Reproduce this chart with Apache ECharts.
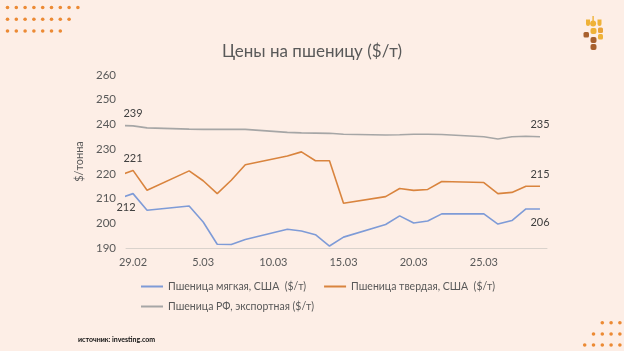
<!DOCTYPE html>
<html>
<head>
<meta charset="utf-8">
<script src="https://cdn.jsdelivr.net/npm/echarts@6/dist/echarts.min.js"></script>
<style>
  html, body { margin: 0; padding: 0; background: #fdeee6; }
  #main { width: 624px; height: 351px; }
</style>
</head>
<body>
<div id="main"></div>
<script>
// даты торгов (первая точка 28.02 обрезается краем оси)
var dates = ['28.02', '29.02', '1.03', '4.03', '5.03', '6.03', '7.03', '8.03',
  '11.03', '12.03', '13.03', '14.03', '15.03', '18.03', '19.03', '20.03', '21.03', '22.03',
  '25.03', '26.03', '27.03', '28.03', '29.03'];

var softUS = [210, 212, 205.3, 207, 200.5, 191.5, 191.4, 193.4,
  197.6, 196.9, 195.4, 190.8, 194.4, 199.5, 203, 200.1, 200.9, 203.8,
  203.8, 199.7, 201.1, 205.8, 205.8];

var durumUS = [219.3, 221.4, 213.4, 221.2, 217.2, 212, 217.4, 223.7,
  227.2, 228.9, 225.3, 225.3, 208.1, 210.8, 214.1, 213.3, 213.7, 216.9,
  216.5, 212, 212.5, 215, 215];

var russia = [239.6, 239.4, 238.6, 238.1, 238, 238, 238, 238,
  236.8, 236.6, 236.5, 236.4, 236, 235.7, 235.8, 236, 236, 235.9,
  235, 234.1, 235, 235.2, 235];

var tickLabels = ['29.02', '5.03', '10.03', '15.03', '20.03', '25.03'];

var seriesNames = ['Пшеница мягкая, США  ($/т)', 'Пшеница твердая, США  ($/т)', 'Пшеница РФ, экспортная ($/т)'];
var colors = ['#7e9bd7', '#d9843e', '#a6a6a6'];

var FONT = 'Lato';
var base = new Date(2024, 1, 29).getTime();

function dayOffset(s) {
  var p = s.split('.');
  return Math.round((new Date(2024, +p[1] - 1, +p[0]).getTime() - base) / 864e5);
}

var xs = dates.map(dayOffset);
var tickValues = tickLabels.map(dayOffset);

// подписи только у второй (29.02) и последней точки
function buildData(values, pos, offset) {
  return values.map(function (v, i) {
    var item = { value: [xs[i], v] };
    if (i === 1 || i === values.length - 1) {
      item.symbol = 'circle';
      item.symbolSize = 1;
      item.itemStyle = { color: 'rgba(0,0,0,0)' };
      item.label = {
        show: true,
        position: pos,
        distance: pos === 'bottom' ? 8 : 6,
        offset: i === 1 ? offset : [0, 0],
        fontFamily: FONT,
        fontSize: 11,
        color: '#404040',
        formatter: function (p) { return Math.round(p.value[1]); }
      };
    }
    return item;
  });
}

// декоративные точки и логотип
var deco = [];
function dotRow(x0, y, n, step) {
  for (var i = 0; i < n; i++) {
    deco.push({ type: 'circle', shape: { cx: x0 + i * step, cy: y, r: 1.8 }, style: { fill: '#ec8a34' } });
  }
}
dotRow(7.5, 7.5, 9, 8.8);
dotRow(7.5, 19.3, 8, 8.8);
dotRow(7.5, 31, 7, 8.8);
dotRow(602.3, 322.7, 3, 8.8);
dotRow(593.5, 334, 4, 8.8);
dotRow(584.7, 345, 5, 8.8);

var gold = '#efb238', brown = '#a8602e', amber = '#e9a33a';
deco.push(
  { type: 'rect', shape: { x: 592.4, y: 16, width: 1.4, height: 5 }, style: { fill: gold } },
  { type: 'circle', shape: { cx: 593.1, cy: 23.5, r: 3 }, style: { fill: gold } },
  { type: 'rect', shape: { x: 586, y: 19.5, width: 4, height: 6.5, r: [0, 0, 2, 2] }, style: { fill: gold } },
  { type: 'rect', shape: { x: 597.5, y: 19.5, width: 4, height: 6.5, r: [0, 0, 2, 2] }, style: { fill: gold } },
  { type: 'rect', shape: { x: 590.5, y: 28, width: 6, height: 6, r: 2 }, style: { fill: gold } },
  { type: 'rect', shape: { x: 598, y: 27.5, width: 5, height: 5.5, r: 1.5 }, style: { fill: amber } },
  { type: 'rect', shape: { x: 583.5, y: 32, width: 5.5, height: 5.5, r: 1.5 }, style: { fill: brown } },
  { type: 'rect', shape: { x: 590.5, y: 37, width: 6, height: 6, r: 2 }, style: { fill: brown } },
  { type: 'rect', shape: { x: 598, y: 34, width: 5, height: 5.5, r: 1.5 }, style: { fill: gold } },
  { type: 'rect', shape: { x: 590.5, y: 44, width: 6, height: 6, r: 2 }, style: { fill: brown } },
  {
    type: 'text', left: 78, top: 336,
    style: { text: 'источник: investing.com', font: 'bold 7px ' + FONT, fill: '#111' }
  }
);

var legendText = { fontFamily: FONT, fontSize: 10.5, color: '#595959' };

var myChart = echarts.init(document.getElementById('main'));

myChart.setOption({
  backgroundColor: '#fdeee6',
  textStyle: { fontFamily: FONT },
  title: {
    text: 'Цены на пшеницу ($/т)',
    left: 'center',
    top: 38,
    textStyle: { fontFamily: FONT, fontSize: 17, fontWeight: 'normal', color: '#595959' }
  },
  legend: [
    {
      data: [
        { name: seriesNames[0], itemStyle: { color: colors[0] } },
        { name: seriesNames[1], itemStyle: { color: colors[1] } }
      ],
      left: 136, top: 276,
      itemGap: 18, itemWidth: 22, itemHeight: 2,
      icon: 'rect',
      textStyle: legendText
    },
    {
      data: [{ name: seriesNames[2], itemStyle: { color: colors[2] } }],
      left: 136, top: 296,
      itemWidth: 22, itemHeight: 2,
      icon: 'rect',
      textStyle: legendText
    }
  ],
  grid: { left: 126, right: 77, top: 75, bottom: 103 },
  xAxis: {
    type: 'value',
    min: -0.5,
    max: 29.5,
    axisLine: { lineStyle: { color: '#d9d2cc' } },
    axisTick: { show: false },
    splitLine: { show: false },
    axisLabel: {
      customValues: tickValues,
      margin: 9,
      fontSize: 11,
      color: '#595959',
      formatter: function (v) { return tickLabels[tickValues.indexOf(Math.round(v))] || ''; }
    }
  },
  yAxis: {
    type: 'value',
    min: 190,
    max: 260,
    interval: 10,
    name: '$/тонна',
    nameLocation: 'middle',
    nameGap: 40,
    nameTextStyle: { fontFamily: FONT, fontSize: 11, color: '#595959' },
    axisLine: { show: false },
    axisTick: { show: false },
    splitLine: { show: false },
    axisLabel: { margin: 10, fontSize: 11.5, color: '#595959' }
  },
  series: [
    {
      name: seriesNames[0], type: 'line', symbol: 'none',
      data: buildData(softUS, 'bottom', [-7, 0]),
      lineStyle: { width: 1.6, color: colors[0] }, itemStyle: { color: colors[0] }
    },
    {
      name: seriesNames[1], type: 'line', symbol: 'none',
      data: buildData(durumUS, 'top', [0, 0]),
      lineStyle: { width: 1.6, color: colors[1] }, itemStyle: { color: colors[1] }
    },
    {
      name: seriesNames[2], type: 'line', symbol: 'none',
      data: buildData(russia, 'top', [0, 0]),
      lineStyle: { width: 1.6, color: colors[2] }, itemStyle: { color: colors[2] }
    }
  ],
  graphic: deco
});
</script>
</body>
</html>
